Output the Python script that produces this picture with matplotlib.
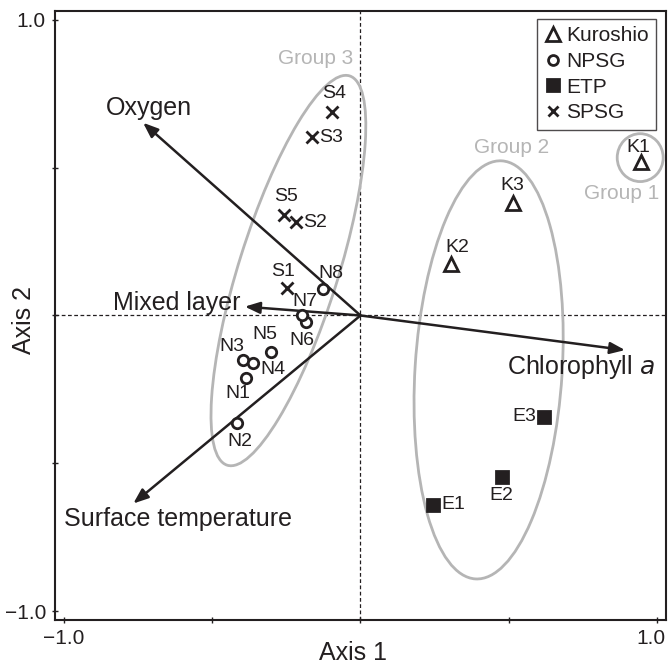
import numpy as np
import matplotlib

matplotlib.use("Agg")
import matplotlib.pyplot as plt
from matplotlib.patches import Ellipse
from matplotlib.lines import Line2D
from matplotlib.transforms import ScaledTranslation

plt.rcParams["font.family"] = ["Liberation Sans", "DejaVu Sans"]

# sample scores on the two ordination axes
names = ["K1", "K2", "K3",
         "N1", "N2", "N3", "N4", "N5", "N6", "N7", "N8",
         "E1", "E2", "E3",
         "S1", "S2", "S3", "S4", "S5"]
region = ["Kuroshio"] * 3 + ["NPSG"] * 8 + ["ETP"] * 3 + ["SPSG"] * 5
axis1 = [0.945, 0.304, 0.513,
         -0.386, -0.418, -0.397, -0.362, -0.302, -0.185, -0.198, -0.125,
         0.246, 0.476, 0.619,
         -0.247, -0.218, -0.163, -0.097, -0.257]
axis2 = [0.518, 0.173, 0.382,
         -0.210, -0.365, -0.151, -0.160, -0.122, -0.023, 0.002, 0.089,
         -0.641, -0.548, -0.342,
         0.094, 0.315, 0.603, 0.688, 0.340]

# environmental vectors
env_names = ["Oxygen", "Mixed layer", "Chlorophyll $\\it{a}$", "Surface temperature"]
env_x = [-0.733, -0.390, 0.892, -0.766]
env_y = [0.652, 0.030, -0.117, -0.636]

# group ellipses: centre, width, height, angle
groups = ["Group 1", "Group 2", "Group 3"]
grp_cx = [0.943, 0.432, -0.243]
grp_cy = [0.534, -0.184, 0.152]
grp_w = [0.155, 1.417, 1.38]
grp_h = [0.162, 0.496, 0.335]
grp_ang = [0, 86.4, 72.6]

# layout of text (pixel offsets / data positions)
label_off = {
    "K1": (-2, 15, "center"), "K2": (7, 17, "center"), "K3": (0, 17, "center"),
    "N1": (-8, -16, "center"), "N2": (3, -18, "center"), "N3": (-11, 14, "center"),
    "N4": (7, -7, "left"), "N5": (-6, 17, "center"), "N6": (-4, -18, "center"),
    "N7": (3, 13, "center"), "N8": (7, 16, "center"),
    "E1": (8, 0, "left"), "E2": (0, -18, "center"), "E3": (-8, 0, "right"),
    "S1": (-4, 16, "center"), "S2": (7, 0, "left"), "S3": (7, 0, "left"),
    "S4": (2, 19, "center"), "S5": (2, 18, "center"),
}
env_text = [(-0.712, 0.702, "center"), (-0.406, 0.042, "right"),
            (0.744, -0.174, "center"), (-0.616, -0.689, "center")]
grp_text = [(0.879, 0.411), (0.508, 0.569), (-0.150, 0.871)]

styles = {
    "Kuroshio": dict(marker="^", mfc="white", ms=10),
    "NPSG": dict(marker="o", mfc="white", ms=7.5),
    "ETP": dict(marker="s", mfc="#231f20", ms=9),
    "SPSG": dict(marker="x", mfc="none", ms=8),
}

ink = "#231f20"
grey = "#b5b5b5"

fig = plt.figure(figsize=(6.68, 6.67), dpi=100)
ax = fig.add_axes([0.0823, 0.0705, 0.9147, 0.913])
ax.set_xlim(-1.03, 1.03)
ax.set_ylim(-1.03, 1.03)

ax.axhline(0, color=ink, lw=0.9, ls=(0, (3, 2)), zorder=1)
ax.axvline(0, color=ink, lw=0.9, ls=(0, (3, 2)), zorder=1)

for i, g in enumerate(groups):
    ax.add_patch(Ellipse((grp_cx[i], grp_cy[i]), grp_w[i], grp_h[i], angle=grp_ang[i],
                         fill=False, ec=grey, lw=2, zorder=2))
    ax.text(grp_text[i][0], grp_text[i][1], g, color=grey, fontsize=15,
            ha="center", va="center")

for i, n in enumerate(env_names):
    ax.annotate("", xy=(env_x[i], env_y[i]), xytext=(0, 0),
                arrowprops=dict(arrowstyle="-|>,head_length=0.9,head_width=0.35",
                                color=ink, lw=1.8, shrinkA=0, shrinkB=0), zorder=3)
    tx, ty, ha = env_text[i]
    ax.text(tx, ty, n, fontsize=18, color=ink, ha=ha, va="center")

for i, n in enumerate(names):
    st = styles[region[i]]
    ax.plot(axis1[i], axis2[i], ls="none", marker=st["marker"], ms=st["ms"],
            mfc=st["mfc"], mec=ink, mew=2, zorder=4)
    dx, dy, ha = label_off[n]
    ax.annotate(n, (axis1[i], axis2[i]), xytext=(dx, dy), textcoords="offset pixels",
                ha=ha, va="center", fontsize=14, color=ink)

handles = [Line2D([], [], ls="none", marker=styles[r]["marker"], ms=styles[r]["ms"] * 0.95,
                  mfc=styles[r]["mfc"], mec=ink, mew=2, label=r)
           for r in ["Kuroshio", "NPSG", "ETP", "SPSG"]]
leg = ax.legend(handles=handles, loc="upper right", bbox_to_anchor=(0.984, 0.987),
                borderaxespad=0, fontsize=15, handlelength=0.8, handletextpad=0.25,
                labelspacing=0.32, borderpad=0.35, frameon=True, fancybox=False)
leg.get_frame().set_edgecolor(ink)
leg.get_frame().set_linewidth(1.0)
for t in leg.get_texts():
    t.set_color(ink)

ax.set_xticks([-1, -0.5, 0, 0.5, 1])
ax.set_yticks([-1, -0.5, 0, 0.5, 1])
ax.set_xticklabels(["\u22121.0", "", "", "", "1.0"])
ax.set_yticklabels(["\u22121.0", "", "", "", "1.0"])
ax.tick_params(direction="inout", length=5, width=1, labelsize=15,
               colors=ink, pad=4)
# keep the right-most tick label inside the figure
last = ax.get_xticklabels()[-1]
last.set_transform(last.get_transform() + ScaledTranslation(-6 / 100, 0, fig.dpi_scale_trans))
for s in ax.spines.values():
    s.set_linewidth(1.5)
    s.set_color(ink)

fig.text(353 / 668, 1 - 653 / 667, "Axis 1", fontsize=18, color=ink,
         ha="center", va="center")
fig.text(24 / 668, 1 - 320 / 667, "Axis 2", fontsize=18, color=ink,
         ha="center", va="center", rotation=90)

fig.savefig("out.png", dpi=100)
